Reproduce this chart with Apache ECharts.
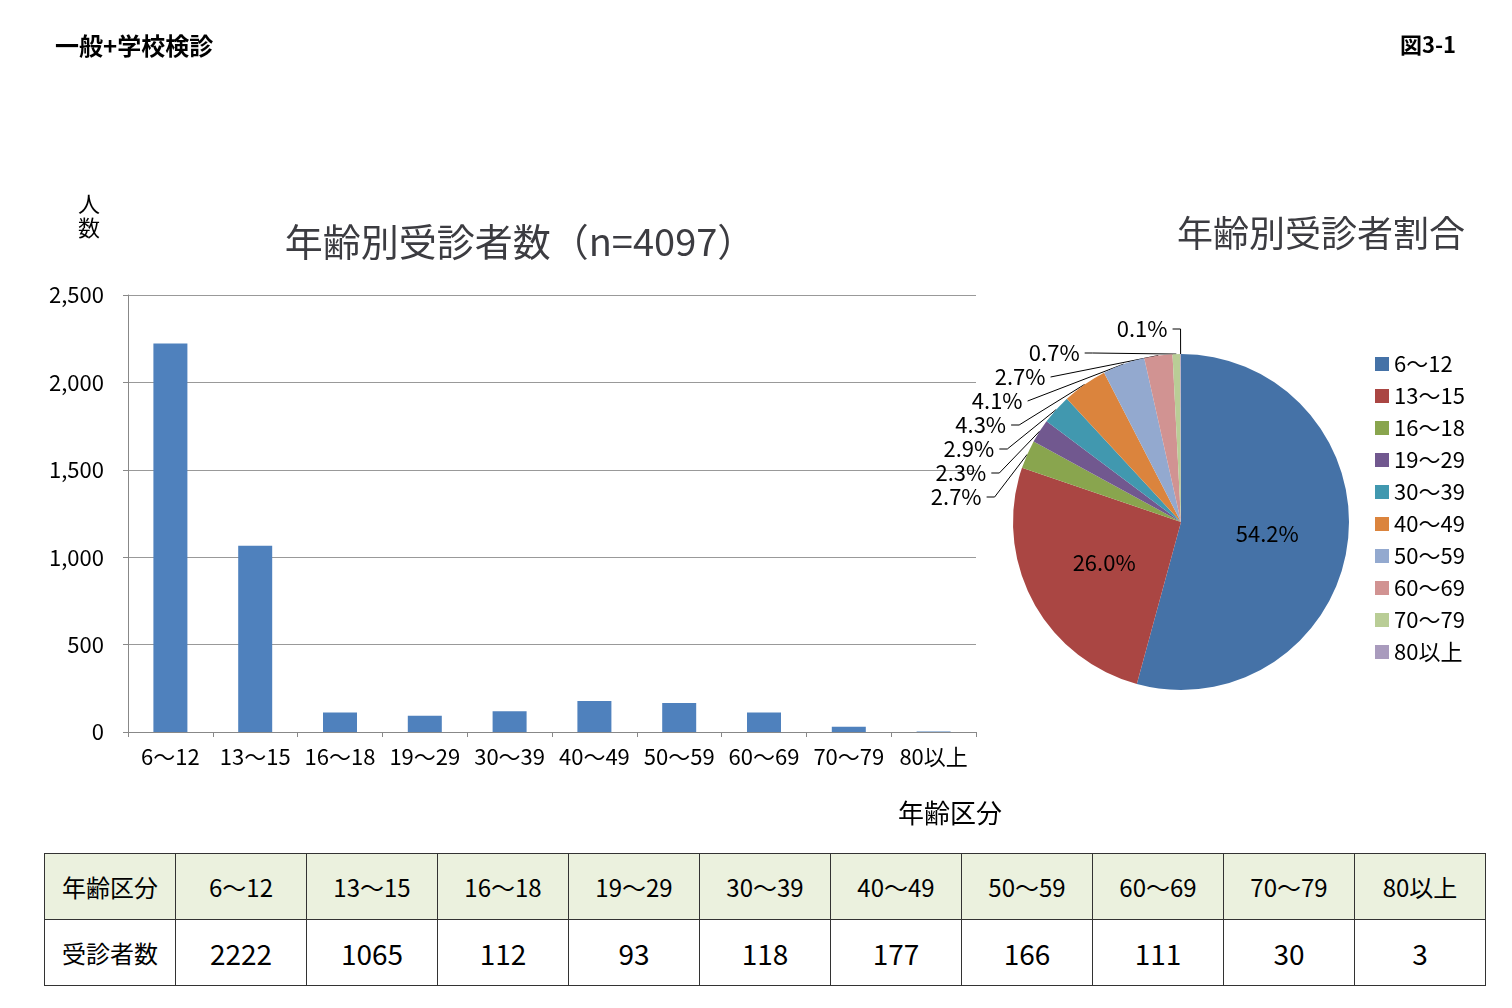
<!DOCTYPE html>
<html><head><meta charset="utf-8">
<script src="https://cdn.jsdelivr.net/npm/echarts@6/dist/echarts.min.js"></script>
<style>
body{margin:0;background:#fff;font-family:"Noto Sans CJK JP",sans-serif;}
#wrap{position:relative;width:1512px;height:1008px;}
#my_echart{position:absolute;left:0;top:0;width:1512px;height:840px;}
#tbl{position:absolute;left:44px;top:853px;border-collapse:collapse;font-size:24px;}
#tbl td{border:1px solid #333;text-align:center;height:65px;width:130px;padding:0;}
#tbl tr:first-child td{background:#EBF1DE;}
</style></head>
<body><div id="wrap"><div id="my_echart"></div><table id="tbl"></table></div>
<script>
var categories = ['6～12', '13～15', '16～18', '19～29', '30～39', '40～49', '50～59', '60～69', '70～79', '80以上'];
var counts = [2222, 1065, 112, 93, 118, 177, 166, 111, 30, 3];
var yTicks = [0, 500, 1000, 1500, 2000, 2500];
var pieColors = ['#4572A7', '#AA4643', '#89A54E', '#71588F', '#4198AF', '#DB843D', '#93A9CF', '#D19392', '#B9CD96', '#A99BBD'];

var total = counts.reduce(function (a, b) { return a + b; }, 0);
var font = '"Noto Sans CJK JP", sans-serif';

//表
var tbl = document.getElementById('tbl');
var r1 = '<tr><td style="width:130px">年齢区分</td>', r2 = '<tr><td>受診者数</td>';
categories.forEach(function (c, i) {
    r1 += '<td>' + c + '</td>';
    r2 += '<td style="font-size:28px">' + counts[i] + '</td>';
});
tbl.innerHTML = r1 + '</tr>' + r2 + '</tr>';

var mychart = echarts.init(document.getElementById('my_echart'));
mychart.setOption({
    textStyle: { fontFamily: font, color: '#000' },
    graphic: [
        { type: 'text', left: 55, top: 34, style: { text: '一般+学校検診', font: 'bold 24px ' + font, fill: '#000' } },
        { type: 'text', left: 1400, top: 34, style: { text: '図3-1', font: 'bold 22px ' + font, fill: '#000' } },
        { type: 'text', left: 78, top: 192, style: { text: '人\n数', font: '22px ' + font, fill: '#000', lineHeight: 24 } },
        { type: 'text', left: 898, top: 800, style: { text: '年齢区分', font: '26px ' + font, fill: '#000' } }
    ],
    title: [
        { text: '年齢別受診者数（n=4097）', left: 515, top: 218, textAlign: 'center',
          textStyle: { fontSize: 38, fontWeight: 'normal', fontFamily: font } },
        { text: '年齢別受診者割合', left: 1316, top: 210, textAlign: 'center',
          textStyle: { fontSize: 36, fontWeight: 'normal', fontFamily: font } }
    ],
    grid: { left: 128, right: 536, top: 295, bottom: 108 },
    xAxis: {
        type: 'category', data: categories,
        axisLine: { lineStyle: { color: '#888' } },
        axisTick: { show: true, lineStyle: { color: '#888' } },
        axisLabel: { fontSize: 22, color: '#000', interval: 0, margin: 14 }
    },
    yAxis: {
        type: 'value', min: 0, max: 2500, interval: 500,
        axisLine: { show: true, lineStyle: { color: '#888' } },
        axisTick: { show: true, lineStyle: { color: '#888' } },
        splitLine: { lineStyle: { color: '#999' } },
        axisLabel: { fontSize: 22, color: '#000', margin: 24 }
    },
    legend: {
        orient: 'vertical', left: 1370, top: 348, itemGap: 10,
        itemWidth: 14, itemHeight: 14, icon: 'rect',
        textStyle: { fontSize: 22, color: '#000' },
        data: categories
    },
    series: [
        {
            type: 'bar', data: counts, barWidth: 34,
            itemStyle: { color: '#4F81BD' }
        },
        {
            type: 'pie', center: [1181, 522], radius: 168, startAngle: 90,
            clockwise: true, color: pieColors,
            label: {
                fontSize: 22, color: '#000',
                formatter: function (p) { return (p.value / total * 100).toFixed(1) + '%'; }
            },
            labelLine: { length: 25, length2: 8, lineStyle: { color: '#000' } },
            data: categories.map(function (c, i) {
                var d = { name: c, value: counts[i] };
                if (i < 2) d.label = { position: 'inside', fontSize: 22, color: '#000' };
                return d;
            })
        }
    ]
});
</script></body></html>
